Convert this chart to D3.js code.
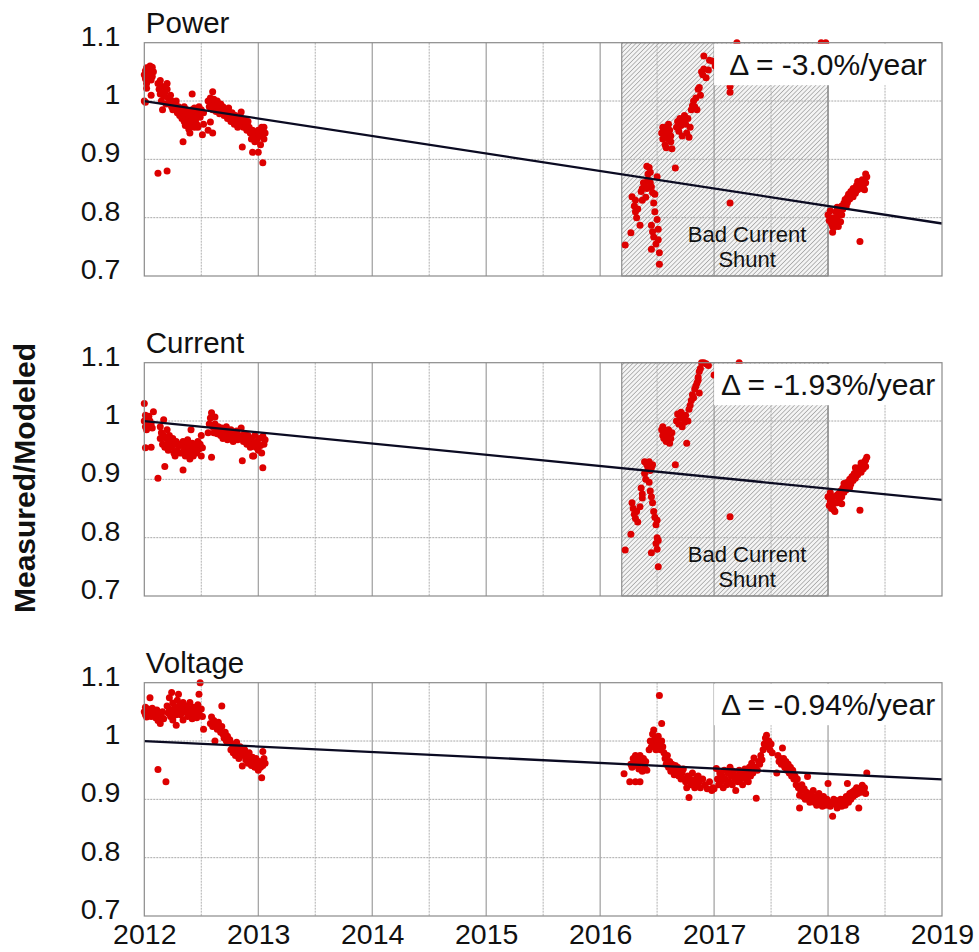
<!DOCTYPE html>
<html>
<head>
<meta charset="utf-8">
<script src="https://cdn.jsdelivr.net/npm/d3@7"></script>
<style>
  body { margin: 0; background: #fff; }
  text { font-family: "Liberation Sans", Arial, sans-serif; }
</style>
</head>
<body>
<div id="chart"></div>
<script>
// x ticks (years) and y ticks
const years = [2012, 2013, 2014, 2015, 2016, 2017, 2018, 2019];
const yTicks = [0.7, 0.8, 0.9, 1.0, 1.1];
const panelNames = ["Power", "Current", "Voltage"];
const rates = [-3.0, -1.93, -0.94];        // %/year
const rateLabels = ["\u0394 = -3.0%/year", "\u0394 = -1.93%/year", "\u0394 = -0.94%/year"];
const shunt = [2016.19, 2018.0];           // bad current shunt period (power + current only)

// [year, measured/modeled]
const powerPts = [
  [2012.00,1.045],[2012.01,1.052],[2012.01,1.038],[2012.02,1.057],[2012.02,1.03],[2012.03,1.048],[2012.03,1.04],[2012.04,1.055],
  [2012.05,1.06],[2012.05,1.045],[2012.06,1.05],[2012.06,1.036],[2012.07,1.058],[2012.07,1.042],[2012.08,1.05],[2012.02,1.022],
  [2012.00,1.0],[2012.01,0.998],[2012.06,1.01],
  [2012.12,0.876],[2012.20,0.88],[2012.12,1.03],[2012.13,1.02],[2012.14,1.035],[2012.14,1.012],[2012.15,1.0],[2012.16,0.985],
  [2012.16,1.025],[2012.17,1.008],[2012.18,1.015],[2012.19,0.995],[2012.2,1.03],[2012.2,1.02],[2012.21,1.005],[2012.22,0.995],
  [2012.23,1.01],[2012.24,0.99],[2012.24,1.0],[2012.25,0.985],[2012.26,0.995],[2012.27,0.985],[2012.28,1.0],[2012.29,0.98],
  [2012.3,0.99],[2012.31,0.975],[2012.32,0.985],
  [2012.33,0.97],[2012.34,0.98],[2012.34,0.93],[2012.35,0.965],[2012.35,0.99],[2012.36,0.975],[2012.36,0.958],[2012.37,0.985],
  [2012.37,0.968],[2012.38,0.96],[2012.38,0.978],[2012.39,0.97],[2012.39,0.952],[2012.4,0.945],[2012.4,0.982],[2012.4,0.965],
  [2012.41,0.975],[2012.41,0.958],[2012.42,1.012],[2012.42,0.985],[2012.42,0.97],[2012.43,0.962],[2012.43,0.978],[2012.44,0.955],
  [2012.44,0.988],[2012.45,0.968],[2012.46,0.98],[2012.46,0.96],[2012.47,0.955],[2012.47,0.975],[2012.48,0.99],[2012.49,0.972],
  [2012.5,0.985],[2012.51,0.942],[2012.52,0.98],[2012.52,0.96],
  [2012.56,0.95],[2012.58,0.964],[2012.6,0.945],[2012.6,1.016],[2012.56,1.0],[2012.57,0.99],[2012.58,1.005],[2012.59,0.995],
  [2012.6,0.985],[2012.61,1.003],[2012.62,0.993],[2012.63,0.982],[2012.64,1.0],[2012.65,0.99],[2012.66,0.978],[2012.67,0.995],
  [2012.68,0.985],[2012.69,0.99],[2012.7,0.975],[2012.71,0.985],[2012.72,0.98],
  [2012.73,0.97],[2012.74,0.988],[2012.75,0.975],[2012.76,0.965],[2012.77,0.98],[2012.78,0.97],[2012.79,0.96],[2012.8,0.975],
  [2012.81,0.965],[2012.82,0.955],[2012.83,0.97],[2012.84,0.96],[2012.85,0.981],[2012.86,0.921],[2012.86,0.965],[2012.87,0.955],
  [2012.88,0.968],[2012.89,0.958],[2012.9,0.95],[2012.91,0.965],[2012.92,0.955],
  [2012.93,0.945],[2012.94,0.935],[2012.95,0.95],[2012.95,0.912],[2012.96,0.94],[2012.97,0.93],[2012.98,0.945],[2012.99,0.935],
  [2013.0,0.912],[2013.0,0.95],[2013.01,0.94],[2013.02,0.925],[2013.03,0.955],[2013.03,0.94],[2013.04,0.894],[2013.04,0.948],
  [2013.05,0.935],[2013.05,0.955],[2013.06,0.945],
  [2016.22,0.753],[2016.27,0.774],[2016.28,0.836],[2016.3,0.82],[2016.31,0.81],[2016.32,0.80],[2016.31,0.83],[2016.33,0.815],
  [2016.35,0.787],[2016.36,0.845],[2016.37,0.85],[2016.38,0.86],[2016.39,0.855],[2016.37,0.83],[2016.4,0.835],[2016.41,0.888],
  [2016.42,0.875],[2016.43,0.886],[2016.42,0.865],[2016.44,0.878],[2016.41,0.85],[2016.45,0.853],[2016.46,0.843],[2016.44,0.86],
  [2016.47,0.825],[2016.48,0.81],[2016.5,0.797],[2016.45,0.787],[2016.46,0.776],[2016.47,0.767],[2016.45,0.746],[2016.51,0.762],
  [2016.51,0.78],[2016.52,0.74],[2016.52,0.72],[2016.5,0.87],[2016.48,0.84],[2016.49,0.755],[2016.66,0.885],[2017.14,0.825],
  [2016.54,0.945],[2016.55,0.955],[2016.55,0.935],[2016.56,0.95],[2016.57,0.94],[2016.57,0.925],[2016.58,0.955],[2016.59,0.945],
  [2016.6,0.935],[2016.6,0.96],[2016.61,0.95],[2016.62,0.93],[2016.63,0.918],[2016.58,0.92],[2016.62,0.94],[2016.67,0.955],
  [2016.68,0.965],[2016.69,0.948],[2016.7,0.97],[2016.71,0.958],[2016.72,0.94],[2016.73,0.965],[2016.74,0.975],[2016.75,0.96],
  [2016.76,0.945],[2016.77,0.97],[2016.78,0.938],[2016.79,0.955],[2016.8,0.985],[2016.81,0.992],[2016.82,1.0],[2016.83,0.99],
  [2016.84,1.005],[2016.85,0.985],[2016.86,1.02],[2016.87,1.023],[2016.88,1.01],[2016.89,1.05],[2016.9,1.045],[2016.91,1.055],
  [2016.93,1.04],[2016.95,1.053],[2016.91,1.077],[2016.96,1.07],[2016.99,1.068],[2017.01,1.06],[2017.2,1.1],[2017.14,1.025],
  [2017.14,1.015],[2017.94,1.1],[2017.98,1.1],
  [2018.0,0.805],[2018.01,0.795],[2018.02,0.8],[2018.03,0.79],[2018.04,0.775],[2018.04,0.785],[2018.05,0.8],[2018.06,0.792],
  [2018.07,0.81],[2018.08,0.8],[2018.09,0.785],[2018.1,0.81],[2018.11,0.805],[2018.12,0.82],[2018.13,0.815],[2018.14,0.825],
  [2018.15,0.831],[2018.16,0.82],[2018.17,0.835],[2018.18,0.84],[2018.19,0.832],[2018.2,0.845],[2018.21,0.838],[2018.22,0.85],
  [2018.23,0.845],[2018.24,0.842],[2018.25,0.855],[2018.26,0.848],[2018.27,0.86],[2018.28,0.759],[2018.29,0.852],[2018.3,0.865],
  [2018.31,0.855],[2018.32,0.848],[2018.33,0.86],[2018.34,0.87],
  [2018.02,0.812],[2018.05,0.783],[2018.08,0.818],[2018.12,0.805],[2018.17,0.826],[2018.22,0.836],[2018.26,0.862],[2018.3,0.85],
  [2018.33,0.875],[2018.11,0.793]
];

const currentPts = [
  [2012.0,1.03],[2012.0,1.0],[2012.01,1.01],[2012.01,0.99],[2012.02,1.005],[2012.02,0.985],[2012.03,0.995],[2012.04,1.008],
  [2012.04,0.99],[2012.05,1.0],[2012.06,0.995],[2012.07,0.988],[2012.08,1.016],[2012.01,0.954],[2012.06,0.955],[2012.12,0.902],
  [2012.18,0.922],[2012.14,0.99],[2012.14,0.97],[2012.15,0.98],[2012.16,0.96],[2012.17,1.002],[2012.17,0.975],[2012.18,0.955],
  [2012.19,0.97],[2012.2,0.985],[2012.2,0.96],[2012.21,0.95],[2012.22,0.975],[2012.23,0.965],[2012.24,0.955],[2012.25,0.97],
  [2012.26,0.945],[2012.27,0.96],[2012.27,0.94],[2012.28,0.965],[2012.29,0.95],[2012.3,0.96],[2012.31,0.945],
  [2012.32,0.958],[2012.33,0.945],[2012.34,0.916],[2012.34,0.965],[2012.35,0.95],[2012.36,0.94],[2012.36,0.96],[2012.37,0.955],
  [2012.38,0.945],[2012.38,0.968],[2012.39,0.95],[2012.4,0.935],[2012.4,0.958],[2012.41,0.985],[2012.41,0.945],[2012.42,0.962],
  [2012.43,0.95],[2012.43,0.94],[2012.44,0.96],[2012.45,0.955],[2012.46,0.945],[2012.47,0.965],[2012.48,0.952],[2012.49,0.96],
  [2012.5,0.975],[2012.51,0.954],[2012.5,0.94],
  [2012.56,0.98],[2012.57,0.995],[2012.58,1.005],[2012.59,0.938],[2012.59,1.014],[2012.6,0.99],[2012.61,0.98],[2012.62,1.007],
  [2012.62,0.995],[2012.63,0.985],[2012.64,0.978],[2012.65,0.99],[2012.66,0.982],[2012.67,0.975],[2012.68,0.988],
  [2012.69,0.97],[2012.7,0.982],[2012.71,0.975],[2012.72,0.99],[2012.73,0.968],[2012.74,0.98],[2012.75,0.972],[2012.76,0.985],
  [2012.77,0.975],[2012.78,0.965],[2012.79,0.978],[2012.8,0.97],[2012.81,0.983],[2012.82,0.968],[2012.83,0.975],[2012.84,0.97],
  [2012.85,0.988],[2012.86,0.932],[2012.86,0.975],[2012.87,0.965],[2012.88,0.978],[2012.89,0.97],[2012.9,0.96],[2012.91,0.975],
  [2012.92,0.965],
  [2012.93,0.955],[2012.94,0.97],[2012.95,0.94],[2012.96,0.96],[2012.96,0.94],[2012.97,0.975],[2012.98,0.955],[2012.99,0.965],
  [2013.0,0.95],[2013.01,0.97],[2013.02,0.958],[2013.03,0.945],[2013.04,0.92],[2013.04,0.974],[2013.05,0.96],[2013.06,0.968],
  [2016.22,0.779],[2016.27,0.806],[2016.28,0.86],[2016.29,0.85],[2016.3,0.84],[2016.31,0.833],[2016.32,0.845],[2016.33,0.827],
  [2016.35,0.853],[2016.36,0.885],[2016.37,0.875],[2016.37,0.868],[2016.39,0.93],[2016.39,0.91],[2016.4,0.9],[2016.41,0.925],
  [2016.42,0.92],[2016.43,0.93],[2016.44,0.915],[2016.45,0.92],[2016.46,0.925],[2016.44,0.88],[2016.45,0.87],[2016.46,0.86],
  [2016.47,0.845],[2016.48,0.835],[2016.49,0.822],[2016.5,0.83],[2016.5,0.8],[2016.49,0.79],[2016.51,0.795],[2016.5,0.78],
  [2016.45,0.774],[2016.51,0.75],[2016.43,0.895],[2016.66,0.925],[2017.14,0.836],
  [2016.54,0.985],[2016.55,0.975],[2016.55,0.99],[2016.56,0.97],[2016.57,0.98],[2016.58,0.965],[2016.59,0.975],[2016.6,0.985],
  [2016.61,0.962],[2016.62,0.97],[2016.63,0.98],[2016.67,1.0],[2016.68,1.012],[2016.69,0.995],[2016.7,1.005],[2016.71,1.015],
  [2016.72,0.99],[2016.73,1.008],[2016.74,0.998],[2016.75,1.01],[2016.76,0.962],[2016.77,1.0],[2016.78,1.02],[2016.79,1.027],
  [2016.8,1.035],[2016.81,1.045],[2016.82,1.04],[2016.83,1.055],[2016.84,1.06],[2016.85,1.065],[2016.86,1.07],[2016.86,1.075],
  [2016.87,1.048],[2016.87,1.085],[2016.88,1.09],[2016.89,1.1],[2016.93,1.098],[2016.95,1.095],[2017.0,1.079],[2016.91,1.1],
  [2017.22,1.1],
  [2018.0,0.87],[2018.01,0.855],[2018.02,0.862],[2018.03,0.85],[2018.04,0.868],[2018.05,0.858],[2018.06,0.845],[2018.07,0.872],
  [2018.08,0.86],[2018.09,0.875],[2018.1,0.865],[2018.11,0.88],[2018.12,0.87],[2018.13,0.885],[2018.14,0.878],[2018.15,0.89],
  [2018.16,0.882],[2018.17,0.895],[2018.18,0.887],[2018.19,0.9],[2018.2,0.892],[2018.21,0.905],[2018.22,0.898],[2018.23,0.91],
  [2018.24,0.902],[2018.25,0.915],[2018.26,0.908],[2018.27,0.92],[2018.28,0.847],[2018.29,0.912],[2018.3,0.925],[2018.31,0.918],
  [2018.32,0.93],[2018.33,0.922],[2018.34,0.938],
  [2018.02,0.877],[2018.05,0.848],[2018.09,0.862],[2018.14,0.893],[2018.19,0.886],[2018.24,0.92],[2018.29,0.928],[2018.33,0.933],
  [2018.12,0.858]
];

const voltagePts = [
  [2012.0,1.05],[2012.01,1.045],[2012.01,1.058],[2012.02,1.041],[2012.03,1.055],[2012.04,1.048],[2012.05,1.074],[2012.05,1.05],
  [2012.06,1.042],[2012.07,1.056],[2012.08,1.045],[2012.12,0.951],[2012.19,0.93],[2012.09,1.05],[2012.1,1.04],[2012.11,1.053],
  [2012.12,1.035],[2012.13,1.048],[2012.14,1.03],[2012.15,1.042],[2012.16,1.05],[2012.17,1.038],[2012.2,1.06],[2012.21,1.048],
  [2012.22,1.074],[2012.22,1.055],[2012.23,1.042],[2012.24,1.083],[2012.25,1.065],[2012.25,1.036],[2012.26,1.05],[2012.27,1.058],
  [2012.28,1.045],[2012.28,1.027],[2012.29,1.07],[2012.3,1.08],[2012.3,1.052],[2012.31,1.062],[2012.32,1.045],[2012.33,1.055],
  [2012.34,1.036],[2012.34,1.066],
  [2012.36,1.05],[2012.37,1.06],[2012.38,1.042],[2012.39,1.055],[2012.4,1.066],[2012.41,1.048],[2012.42,1.038],[2012.43,1.058],
  [2012.44,1.045],[2012.45,1.052],[2012.46,1.04],[2012.47,1.062],[2012.48,1.048],[2012.48,1.08],[2012.49,1.1],[2012.5,1.055],
  [2012.51,1.042],[2012.52,1.02],
  [2012.58,1.03],[2012.59,1.041],[2012.6,1.025],[2012.61,1.035],[2012.62,1.0],[2012.63,1.028],[2012.64,1.02],[2012.65,1.032],
  [2012.66,1.022],[2012.67,1.015],[2012.68,1.06],[2012.68,1.025],
  [2012.69,1.012],[2012.7,1.005],[2012.71,1.015],[2012.72,1.0],[2012.73,1.008],[2012.74,0.998],[2012.75,1.002],[2012.76,0.985],
  [2012.77,0.995],[2012.78,0.98],[2012.79,0.99],[2012.8,0.975],[2012.81,0.998],[2012.82,0.985],[2012.83,0.97],[2012.84,0.99],
  [2012.85,0.98],[2012.86,0.957],[2012.87,0.975],[2012.88,0.985],[2012.89,0.968],
  [2012.9,0.975],[2012.91,0.962],[2012.92,0.98],[2012.93,0.968],[2012.94,0.958],[2012.95,0.972],[2012.96,0.962],[2012.97,0.955],
  [2012.98,0.97],[2012.99,0.96],[2013.0,0.95],[2013.01,0.965],[2013.02,0.955],[2013.03,0.937],[2013.04,0.982],[2013.04,0.958],
  [2013.05,0.97],[2013.06,0.962],
  [2016.21,0.944],[2016.26,0.93],[2016.31,0.93],[2016.35,0.93],[2016.27,0.96],[2016.28,0.955],[2016.29,0.97],[2016.3,0.965],
  [2016.31,0.975],[2016.32,0.958],[2016.33,0.968],[2016.34,0.952],[2016.35,0.975],[2016.36,0.962],[2016.37,0.948],[2016.38,0.97],
  [2016.39,0.958],[2016.4,0.965],[2016.41,0.95],
  [2016.43,0.985],[2016.44,1.0],[2016.45,0.99],[2016.46,1.012],[2016.47,1.019],[2016.47,0.995],[2016.48,1.005],[2016.49,0.985],
  [2016.5,1.0],[2016.5,0.99],[2016.51,1.008],[2016.52,1.078],[2016.52,0.995],[2016.53,0.985],[2016.54,1.03],[2016.54,1.0],
  [2016.55,0.99],[2016.56,0.98],
  [2016.57,0.97],[2016.58,0.96],[2016.59,0.975],[2016.6,0.955],[2016.61,0.965],[2016.62,0.948],[2016.63,0.96],[2016.64,0.95],
  [2016.65,0.942],[2016.66,0.958],[2016.67,0.945],[2016.68,0.955],[2016.69,0.94],[2016.7,0.95],[2016.71,0.935],[2016.72,0.945],
  [2016.73,0.952],[2016.74,0.935],[2016.75,0.93],[2016.76,0.92],[2016.77,0.94],[2016.78,0.903],[2016.79,0.935],[2016.8,0.925],
  [2016.81,0.945],[2016.82,0.93],[2016.83,0.92],[2016.84,0.935],[2016.85,0.925],[2016.86,0.94],[2016.87,0.93],[2016.88,0.92],
  [2016.9,0.935],[2016.92,0.925],[2016.94,0.918],[2016.96,0.93],
  [2016.98,0.915],[2016.99,0.92],[2017.0,0.918],[2017.02,0.953],[2017.03,0.935],[2017.04,0.925],[2017.05,0.945],[2017.06,0.93],
  [2017.07,0.94],[2017.08,0.92],[2017.09,0.95],[2017.1,0.935],[2017.11,0.925],[2017.12,0.945],[2017.13,0.93],[2017.14,0.955],
  [2017.15,0.94],[2017.16,0.925],[2017.17,0.948],[2017.18,0.935],[2017.19,0.915],[2017.2,0.94],[2017.21,0.93],[2017.22,0.95],
  [2017.23,0.935],[2017.24,0.945],[2017.25,0.925],[2017.26,0.94],[2017.27,0.952],[2017.28,0.935],[2017.29,0.945],[2017.3,0.93],
  [2017.31,0.955],[2017.32,0.94],[2017.33,0.962],[2017.34,0.945],[2017.35,0.971],[2017.36,0.955],[2017.37,0.902],[2017.38,0.95],
  [2017.39,0.965],[2017.4,0.96],[2017.41,0.975],[2017.42,0.968],
  [2017.43,0.985],[2017.44,0.995],[2017.45,1.005],[2017.46,1.01],[2017.47,0.99],[2017.48,1.0],[2017.49,0.985],[2017.5,0.995],
  [2017.51,0.98],[2017.55,0.945],
  [2017.56,0.975],[2017.57,0.965],[2017.58,0.97],[2017.59,0.96],[2017.6,0.988],[2017.61,0.97],[2017.62,0.955],[2017.63,0.965],
  [2017.64,0.95],[2017.65,0.96],[2017.66,0.945],[2017.67,0.955],[2017.68,0.94],[2017.69,0.95],[2017.7,0.935],[2017.71,0.94],
  [2017.72,0.925],[2017.73,0.935],[2017.74,0.92],
  [2017.75,0.907],[2017.75,0.885],[2017.76,0.915],[2017.77,0.925],[2017.78,0.905],[2017.79,0.918],[2017.8,0.9],[2017.81,0.912],
  [2017.82,0.939],[2017.83,0.905],[2017.84,0.895],[2017.85,0.91],[2017.86,0.9],[2017.87,0.915],[2017.88,0.895],[2017.89,0.905],
  [2017.9,0.89],[2017.91,0.9],[2017.92,0.91],[2017.93,0.895],[2017.94,0.9],[2017.95,0.888],[2017.96,0.905],[2017.97,0.895],
  [2017.98,0.89],[2017.99,0.9],
  [2018.0,0.927],[2018.01,0.895],[2018.02,0.888],[2018.04,0.871],[2018.05,0.9],[2018.06,0.892],[2018.07,0.898],[2018.08,0.885],
  [2018.09,0.895],[2018.1,0.89],[2018.11,0.9],[2018.12,0.888],[2018.13,0.895],[2018.14,0.9],[2018.15,0.89],[2018.16,0.905],
  [2018.17,0.927],[2018.18,0.895],[2018.19,0.91],[2018.2,0.9],[2018.21,0.912],[2018.22,0.905],[2018.23,0.915],[2018.24,0.908],
  [2018.25,0.92],[2018.26,0.91],[2018.27,0.885],[2018.28,0.918],[2018.29,0.912],[2018.3,0.924],[2018.31,0.915],[2018.32,0.92],
  [2018.33,0.91],[2018.34,0.945]
];

const series = [powerPts, currentPts, voltagePts];

const W = 979, H = 952;
const left = 144.3, right = 942;
const panelTops = [42.7, 362.7, 682.7];
const ph = 233.3;

const svg = d3.select("#chart").append("svg")
  .attr("width", W).attr("height", H);

// hatch pattern for the shunt region
const pat = svg.append("defs").append("pattern")
  .attr("id", "hatch")
  .attr("patternUnits", "userSpaceOnUse")
  .attr("width", 3.2).attr("height", 3.2)
  .attr("patternTransform", "rotate(45)");
pat.append("rect").attr("width", 3.2).attr("height", 3.2).attr("fill", "#f4f4f4");
pat.append("line").attr("x1", 0).attr("y1", 0).attr("x2", 0).attr("y2", 3.2)
  .attr("stroke", "#7a7a7a").attr("stroke-width", 1);

const x = d3.scaleLinear().domain([2012, 2019]).range([left, right]);
const gridX = d3.range(2012.5, 2019, 0.5);

panelNames.forEach((name, i) => {
  const top = panelTops[i];
  const y = d3.scaleLinear().domain([0.7, 1.1]).range([top + ph, top]);
  const g = svg.append("g");

  if (i < 2) {
    g.append("rect")
      .attr("x", x(shunt[0])).attr("y", top)
      .attr("width", x(shunt[1]) - x(shunt[0])).attr("height", ph)
      .attr("fill", "url(#hatch)")
      .attr("stroke", "#777").attr("stroke-width", 1);
  }

  // grid
  g.selectAll(".gx").data(gridX).join("line")
    .attr("x1", d => x(d)).attr("x2", d => x(d))
    .attr("y1", top).attr("y2", top + ph)
    .attr("stroke", d => Number.isInteger(d) ? "#8a8a8a" : "#b0b0b0")
    .attr("stroke-width", 1)
    .attr("stroke-dasharray", d => Number.isInteger(d) ? null : "2,1");
  g.selectAll(".gy").data([0.8, 0.9, 1.0]).join("line")
    .attr("x1", left).attr("x2", right)
    .attr("y1", d => y(d)).attr("y2", d => y(d))
    .attr("stroke", "#a8a8a8").attr("stroke-width", 1)
    .attr("stroke-dasharray", "2,1");

  // data points
  g.selectAll("circle").data(series[i]).join("circle")
    .attr("cx", d => x(d[0])).attr("cy", d => y(d[1]))
    .attr("r", 3.5).attr("fill", "#dd0000");

  // trend line
  const trend = [2012, 2019].map(t => [t, 1 + rates[i] / 100 * (t - 2012)]);
  g.append("path")
    .datum(trend)
    .attr("d", d3.line().x(d => x(d[0])).y(d => y(d[1])))
    .attr("stroke", "#0b0b22").attr("stroke-width", 2.3).attr("fill", "none");

  // label box
  g.append("rect")
    .attr("x", x(2017)).attr("y", top + 1)
    .attr("width", right - x(2017)).attr("height", 41.5)
    .attr("fill", "#fff");

  // frame
  g.append("rect")
    .attr("x", left).attr("y", top).attr("width", right - left).attr("height", ph)
    .attr("fill", "none").attr("stroke", "#8a8a8a").attr("stroke-width", 1.2);

  g.append("text")
    .attr("x", x(2018)).attr("y", top + 32.5)
    .attr("text-anchor", "middle")
    .style("font-size", "30px").attr("fill", "#111")
    .text(rateLabels[i]);

  if (i < 2) {
    const cx = x(2017.29);
    g.append("text").attr("x", cx).attr("y", top + 199)
      .attr("text-anchor", "middle").style("font-size", "22px").attr("fill", "#111")
      .text("Bad Current");
    g.append("text").attr("x", cx).attr("y", top + 224)
      .attr("text-anchor", "middle").style("font-size", "22px").attr("fill", "#111")
      .text("Shunt");
  }

  // panel title
  g.append("text")
    .attr("x", left + 1.5).attr("y", top - 9.4)
    .style("font-size", "29.5px").attr("fill", "#111")
    .text(name);

  // y axis
  const ya = g.append("g")
    .attr("transform", `translate(${left},0)`)
    .call(d3.axisLeft(y).tickValues(yTicks).tickSize(0).tickPadding(24).tickFormat(d3.format("~g")));
  ya.select(".domain").remove();
  ya.selectAll("text").attr("dy", "2.5px").style("font-size", "28.5px")
    .style("font-family", "'Liberation Sans', Arial, sans-serif").attr("fill", "#111");

  if (i === 2) {
    const xa = g.append("g")
      .attr("transform", `translate(0,${top + ph})`)
      .call(d3.axisBottom(x).tickValues(years).tickSize(0).tickPadding(8).tickFormat(d3.format("d")));
    xa.select(".domain").remove();
    xa.selectAll("text").style("font-size", "28.5px")
      .style("font-family", "'Liberation Sans', Arial, sans-serif").attr("fill", "#111");
  }
});

svg.append("text")
  .attr("transform", "translate(35,478) rotate(-90)")
  .attr("text-anchor", "middle")
  .style("font-size", "30px").style("font-weight", "bold").attr("fill", "#111")
  .text("Measured/Modeled");
</script>
</body>
</html>
